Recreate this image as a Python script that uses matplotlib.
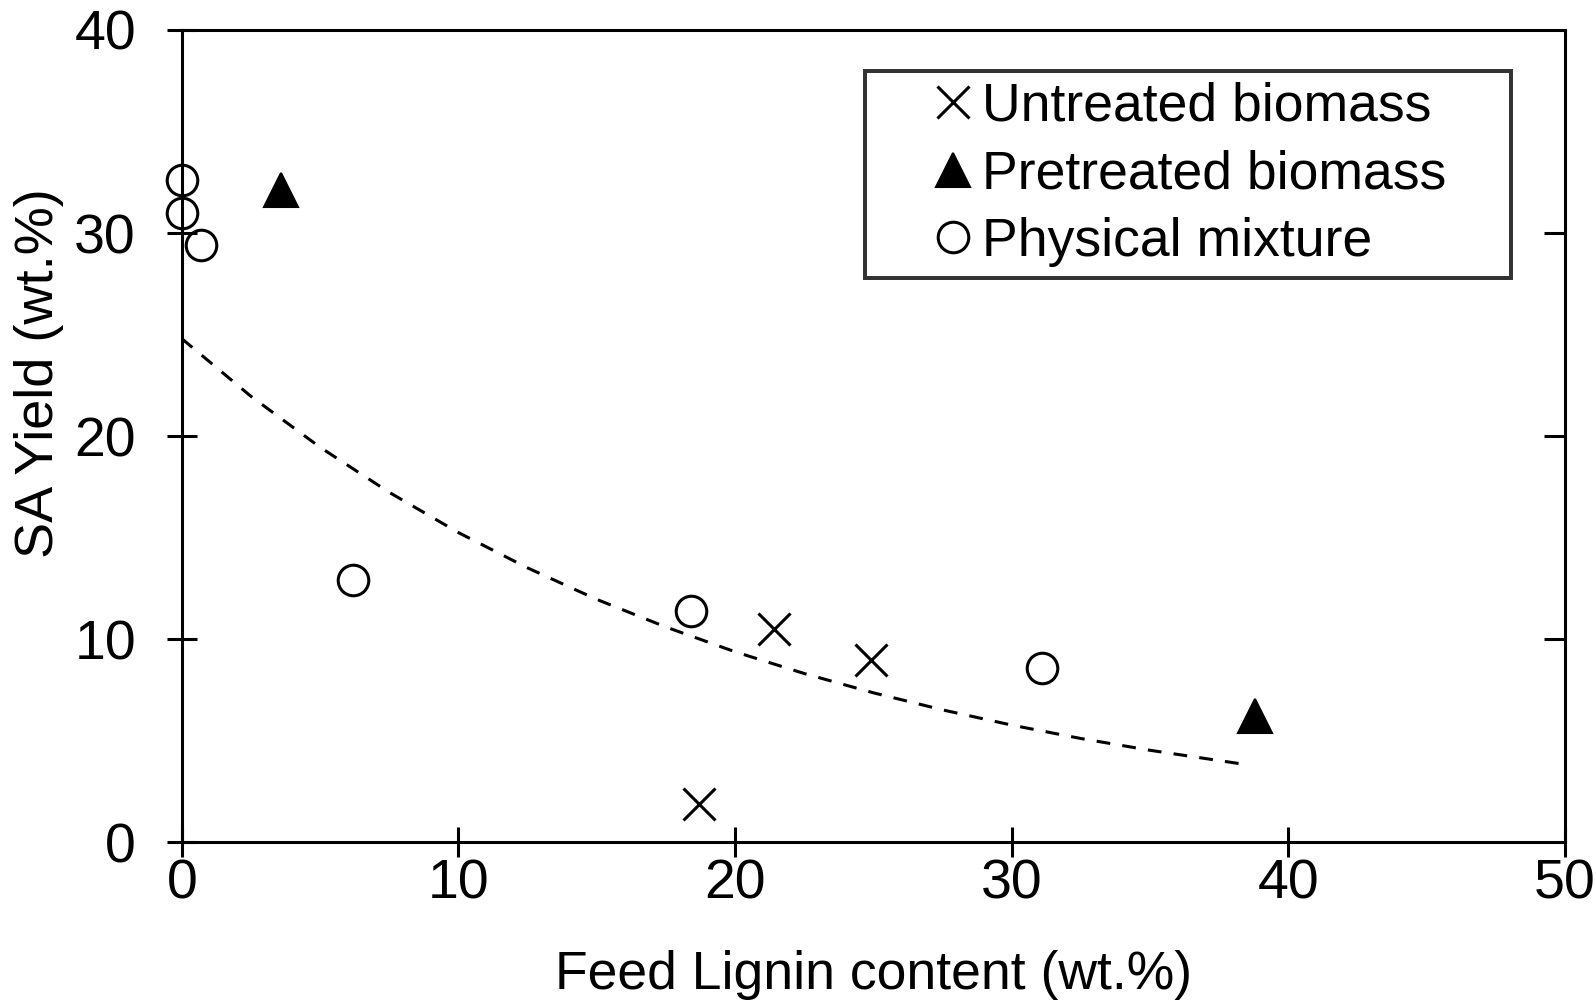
import numpy as np
import matplotlib
matplotlib.use("Agg")
import matplotlib.pyplot as plt
from matplotlib.lines import Line2D

plt.rcParams['font.family'] = ['Liberation Sans', 'DejaVu Sans']

# data
untreated_x = [18.7, 21.4, 24.9]
untreated_y = [1.9, 10.5, 9.0]

pretreated_x = [3.6, 38.8]
pretreated_y = [32.1, 6.2]

mixture_x = [0.0, 0.0, 0.7, 6.2, 18.4, 31.1]
mixture_y = [32.6, 31.0, 29.4, 12.9, 11.4, 8.6]

# trend line points
trend_x = [0, 2.5, 5, 7.5, 10, 12.5, 15, 17.5, 20, 22.5, 25, 27.5, 30, 32.5, 35, 38.3]
trend_y = [24.8, 21.96, 19.45, 17.23, 15.25, 13.51, 11.96, 10.6, 9.38, 8.31, 7.36, 6.52,
           5.77, 5.11, 4.53, 3.86]

labels = ['Untreated biomass', 'Pretreated biomass', 'Physical mixture']

fig = plt.figure(figsize=(15.96, 10.02), dpi=100)
ax = fig.add_axes([0.1139, 0.1594, 0.8667, 0.8107])

lw = 2.2
ax.plot(trend_x, trend_y, color='black', lw=lw, linestyle=(0, (4.5, 4)), zorder=2)
ax.plot(untreated_x, untreated_y, 'x', color='black', ms=23, mew=lw, linestyle='none',
        clip_on=False, zorder=3)
ax.plot(pretreated_x, pretreated_y, '^', color='black', ms=24, mew=1.5, linestyle='none',
        clip_on=False, zorder=3)
ax.plot(mixture_x, mixture_y, 'o', mfc='none', mec='black', ms=22, mew=lw, linestyle='none',
        clip_on=False, zorder=3)

ax.set_xlim(0, 50)
ax.set_ylim(0, 40)
ax.set_xticks([0, 10, 20, 30, 40, 50])
ax.set_yticks([0, 10, 20, 30, 40])

for s in ax.spines.values():
    s.set_linewidth(lw)
ax.tick_params(axis='both', direction='inout', length=22, width=lw, labelsize=40)
ax.tick_params(axis='x', pad=1)
ax.tick_params(axis='y', pad=22)

# inward ticks on the right side
ax_r = ax.twinx()
ax_r.set_ylim(0, 40)
ax_r.set_yticks([10, 20, 30])
ax_r.tick_params(axis='y', direction='in', length=15, width=lw, labelright=False)
for s in ax_r.spines.values():
    s.set_visible(False)

ax.set_xlabel('Feed Lignin content (wt.%)', fontsize=38.5, va='center')
ax.xaxis.set_label_coords(0.5, -0.163)
ax.set_ylabel('SA Yield (wt.%)', fontsize=39, va='center', ha='center')
ax.yaxis.set_label_coords(-0.103, 0.578)

handles = [
    Line2D([], [], marker='x', color='black', ms=23, mew=lw, linestyle='none'),
    Line2D([], [], marker='^', color='black', ms=24, mew=1.5, linestyle='none'),
    Line2D([], [], marker='o', mfc='none', mec='black', ms=22, mew=lw, linestyle='none'),
]
leg = ax.legend(handles, labels, loc='upper left',
                bbox_to_anchor=(0.494, 0.6996, 0.467, 0.25), mode='expand',
                fontsize=38.5, frameon=True, fancybox=False, edgecolor='black',
                handlelength=2.9, handletextpad=-0.91, labelspacing=0.33,
                borderpad=0.2, borderaxespad=0)
leg.get_frame().set_linewidth(lw * 1.3)

fig.savefig('out.png', dpi=100, facecolor='white')
